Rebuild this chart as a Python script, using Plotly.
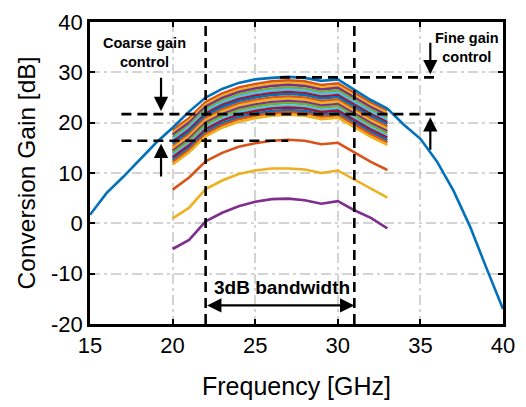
import plotly.graph_objects as go

# ---------------- data ----------------
freq_full = [15, 16, 17, 18, 19, 20, 21, 22, 23, 24, 25, 26, 27, 28, 29, 30, 31, 32, 33, 34, 35, 36, 37, 38, 39, 40]
gain_max = [1.7, 6.0, 9.2, 12.5, 16.0, 19.0, 22.2, 25.0, 26.7, 27.9, 28.6, 28.9, 29.1, 28.9, 28.3, 28.6, 26.5,
            24.5, 22.8, 19.6, 16.8, 12.3, 6.5, -0.6, -8.9, -17.0]

freq_band = [20, 21, 22, 23, 24, 25, 26, 27, 28, 29, 30, 31, 32, 33]

gain_fine = [
    [18.5, 20.9, 24.1, 25.8, 27.0, 27.7, 28.2, 28.4, 28.2, 27.5, 27.8, 25.9, 24.0, 22.4],
    [18.0, 20.4, 23.6, 25.3, 26.5, 27.2, 27.7, 27.9, 27.7, 27.0, 27.3, 25.4, 23.5, 21.9],
    [17.6, 20.0, 23.2, 24.9, 26.1, 26.8, 27.3, 27.5, 27.3, 26.6, 26.9, 25.0, 23.1, 21.5],
    [17.1, 19.5, 22.7, 24.4, 25.6, 26.3, 26.8, 27.0, 26.8, 26.1, 26.4, 24.5, 22.6, 21.0],
    [16.7, 19.1, 22.3, 24.0, 25.2, 25.9, 26.4, 26.6, 26.4, 25.7, 26.0, 24.1, 22.2, 20.6],
    [16.2, 18.6, 21.8, 23.5, 24.7, 25.4, 25.9, 26.1, 25.9, 25.2, 25.5, 23.6, 21.7, 20.1],
    [15.8, 18.2, 21.4, 23.1, 24.3, 25.0, 25.5, 25.7, 25.5, 24.8, 25.1, 23.2, 21.3, 19.7],
    [15.3, 17.7, 20.9, 22.6, 23.8, 24.5, 25.0, 25.2, 25.0, 24.3, 24.6, 22.7, 20.8, 19.2],
    [14.9, 17.3, 20.5, 22.2, 23.4, 24.1, 24.6, 24.8, 24.6, 23.9, 24.2, 22.3, 20.4, 18.8],
    [14.4, 16.8, 20.0, 21.7, 22.9, 23.6, 24.1, 24.3, 24.1, 23.4, 23.7, 21.8, 19.9, 18.3],
    [14.0, 16.4, 19.6, 21.3, 22.5, 23.2, 23.7, 23.9, 23.7, 23.0, 23.3, 21.4, 19.5, 17.9],
    [13.5, 15.9, 19.1, 20.8, 22.0, 22.7, 23.2, 23.4, 23.2, 22.5, 22.8, 20.9, 19.0, 17.4],
    [13.1, 15.5, 18.7, 20.4, 21.6, 22.3, 22.8, 23.0, 22.8, 22.1, 22.4, 20.5, 18.6, 17.0],
    [12.6, 15.0, 18.2, 19.9, 21.1, 21.8, 22.3, 22.5, 22.3, 21.6, 21.9, 20.0, 18.1, 16.5],
    [12.2, 14.6, 17.8, 19.5, 20.7, 21.4, 21.9, 22.1, 21.9, 21.2, 21.5, 19.6, 17.7, 16.1],
    [11.7, 14.1, 17.3, 19.0, 20.2, 20.9, 21.4, 21.6, 21.4, 20.7, 21.0, 19.1, 17.2, 15.6],
]

gain_coarse_1 = [6.7, 9.1, 12.3, 14.0, 15.2, 15.9, 16.4, 16.6, 16.4, 15.7, 16.0, 14.1, 12.2, 10.6]
gain_coarse_2 = [1.0, 3.1, 6.8, 8.5, 9.8, 10.5, 10.9, 10.9, 10.7, 10.0, 10.5, 8.7, 7.0, 5.1]
gain_coarse_3 = [-5.1, -3.3, 0.4, 2.1, 3.4, 4.3, 4.8, 4.9, 4.6, 3.9, 4.4, 2.6, 1.1, -1.0]

bw_edges = [22, 31]
level_top = 29.0
level_mid = 21.7
level_low = 16.4
level_x_left = 16.9
level_x_right = 35.9
level_top_x_left = 26.5
level_low_x_right = 27.0

x_ticks = [15, 20, 25, 30, 35, 40]
y_ticks = [-20, -10, 0, 10, 20, 30, 40]

# ---------------- styling ----------------
C = ["#0072BD", "#D95319", "#EDB120", "#7E2F8E", "#77AC30", "#4DBEEE", "#A2142F"]
FONT = "Liberation Sans, Arial, sans-serif"
LW = 2.6

fig = go.Figure()

for k, g in enumerate(gain_fine):
    fig.add_trace(go.Scatter(x=freq_band, y=g, mode="lines",
                             line=dict(color=C[(1 + k) % 7], width=LW), showlegend=False))
for g, col in [(gain_coarse_1, C[1]), (gain_coarse_2, C[2]), (gain_coarse_3, C[3])]:
    fig.add_trace(go.Scatter(x=freq_band, y=g, mode="lines",
                             line=dict(color=col, width=LW), showlegend=False))
fig.add_trace(go.Scatter(x=freq_full, y=gain_max, mode="lines",
                         line=dict(color=C[0], width=LW), showlegend=False))

dash_line = dict(color="black", width=2.6, dash="10px,6px")
for xv in bw_edges:
    fig.add_shape(type="line", x0=xv, x1=xv, y0=-20, y1=40, xref="x", yref="y", line=dash_line)
fig.add_shape(type="line", x0=level_top_x_left, x1=level_x_right, y0=level_top, y1=level_top, line=dash_line)
fig.add_shape(type="line", x0=level_x_left, x1=level_x_right, y0=level_mid, y1=level_mid, line=dash_line)
fig.add_shape(type="line", x0=level_x_left, x1=level_low_x_right, y0=level_low, y1=level_low, line=dash_line)

arrow = dict(xref="x", yref="y", axref="x", ayref="y", text="", showarrow=True,
             arrowhead=2, arrowsize=1.3, arrowwidth=2.2, arrowcolor="black")
# coarse arrows
fig.add_annotation(x=19.3, y=level_mid + 0.6, ax=19.3, ay=29.2, **arrow)
fig.add_annotation(x=19.3, y=level_low - 0.6, ax=19.3, ay=9.0, **arrow)
# fine arrows
fig.add_annotation(x=35.6, y=level_top + 0.6, ax=35.6, ay=36.2, **arrow)
fig.add_annotation(x=35.6, y=level_mid - 0.6, ax=35.6, ay=14.3, **arrow)
# bandwidth double arrow
fig.add_annotation(x=bw_edges[1], y=-16.3, ax=bw_edges[0], ay=-16.3, arrowside="end+start", **arrow)

tf = dict(family=FONT, size=14.5, color="black")
fig.add_annotation(x=18.3, y=34.0, xref="x", yref="y", text="<b>Coarse gain<br>control</b>",
                   showarrow=False, font=tf, align="center")
fig.add_annotation(x=37.85, y=34.9, xref="x", yref="y", text="<b>Fine gain<br>control</b>",
                   showarrow=False, font=tf, align="center")
fig.add_annotation(x=26.65, y=-12.8, xref="x", yref="y", text="<b>3dB bandwidth</b>",
                   showarrow=False, font=dict(family=FONT, size=19, color="black"))

axis_common = dict(showline=True, linecolor="black", linewidth=2.6, mirror="ticks",
                   ticks="inside", ticklen=5, tickwidth=2, tickcolor="black",
                   showgrid=True, gridcolor="#d4d4d4", gridwidth=2.2, griddash="10px,4px,3px,4px",
                   zeroline=False, tickfont=dict(family=FONT, size=22, color="black"))

fig.update_xaxes(range=[15, 40], tickvals=x_ticks, ticktext=[str(v) for v in x_ticks],
                 title=dict(text="Frequency [GHz]", font=dict(family=FONT, size=25, color="black"), standoff=21),
                 **axis_common)
fig.update_yaxes(range=[-20, 40], tickvals=y_ticks, ticktext=[str(v) for v in y_ticks],
                 title=dict(text="Conversion Gain [dB]", font=dict(family=FONT, size=24.5, color="black"), standoff=9),
                 **axis_common)

fig.update_layout(width=526, height=407, margin=dict(l=90, r=23, t=10, b=82),
                  plot_bgcolor="white", paper_bgcolor="white", showlegend=False)

fig.write_html("out.html")
